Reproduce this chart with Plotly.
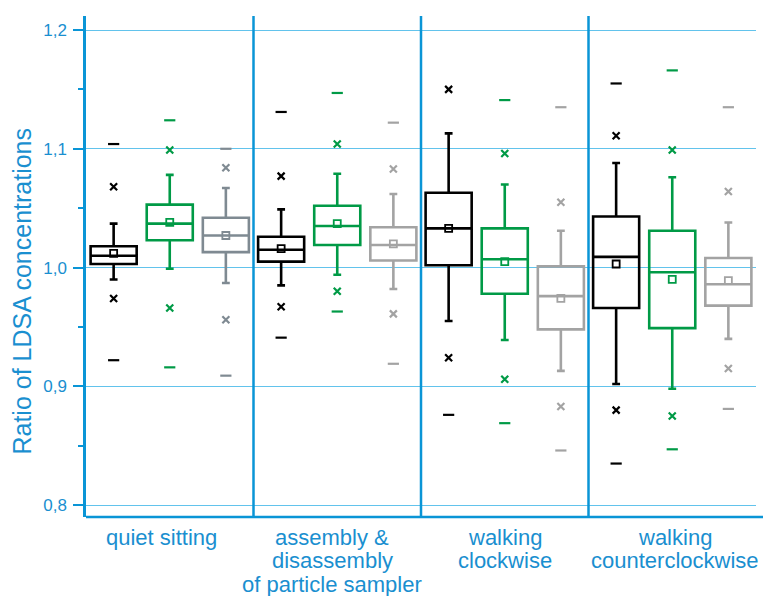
import plotly.graph_objects as go

# Activities on the x axis, one list entry per label line
groups = [
    ["quiet sitting"],
    ["assembly &", "disassembly", "of particle sampler"],
    ["walking", "clockwise"],
    ["walking", "counterclockwise"],
]

# Summary statistics of the LDSA ratio for three instruments
# (min, 1st pct, lower whisker, Q1, median, mean, Q3, upper whisker, 99th pct, max)
black_min = [0.922, 0.941, 0.876, 0.835]
black_plo = [0.974, 0.967, 0.924, 0.880]
black_wlo = [0.990, 0.985, 0.955, 0.902]
black_q1 = [1.003, 1.005, 1.002, 0.966]
black_med = [1.010, 1.015, 1.033, 1.009]
black_mean = [1.012, 1.016, 1.033, 1.003]
black_q3 = [1.018, 1.026, 1.063, 1.043]
black_whi = [1.037, 1.049, 1.113, 1.088]
black_phi = [1.068, 1.077, 1.150, 1.111]
black_max = [1.104, 1.131, 1.213, 1.155]

green_min = [0.916, 0.963, 0.869, 0.847]
green_plo = [0.966, 0.980, 0.906, 0.875]
green_wlo = [0.999, 0.994, 0.939, 0.898]
green_q1 = [1.023, 1.019, 0.978, 0.949]
green_med = [1.037, 1.035, 1.007, 0.996]
green_mean = [1.038, 1.037, 1.005, 0.990]
green_q3 = [1.053, 1.052, 1.033, 1.031]
green_whi = [1.078, 1.079, 1.070, 1.076]
green_phi = [1.099, 1.104, 1.096, 1.099]
green_max = [1.124, 1.147, 1.141, 1.166]

gray_min = [0.909, 0.919, 0.846, 0.881]
gray_plo = [0.956, 0.961, 0.883, 0.915]
gray_wlo = [0.987, 0.982, 0.913, 0.940]
gray_q1 = [1.013, 1.006, 0.948, 0.968]
gray_med = [1.027, 1.019, 0.976, 0.986]
gray_mean = [1.027, 1.020, 0.974, 0.989]
gray_q3 = [1.042, 1.034, 1.001, 1.008]
gray_whi = [1.067, 1.062, 1.031, 1.038]
gray_phi = [1.084, 1.083, 1.055, 1.064]
gray_max = [1.100, 1.122, 1.135, 1.135]

y_ticks = [0.8, 0.9, 1.0, 1.1, 1.2]
y_title = "Ratio of LDSA concentrations"

AXIS = "#0a95d6"
GRID = "#62c3ec"
TEXT = "#1a8fd0"

series = [
    dict(name="instrument 1", colors=["#000000"] * 4, offset=-0.335,
         stats=(black_min, black_plo, black_wlo, black_q1, black_med, black_mean,
                black_q3, black_whi, black_phi, black_max)),
    dict(name="instrument 2", colors=["#009a46"] * 4, offset=0.0,
         stats=(green_min, green_plo, green_wlo, green_q1, green_med, green_mean,
                green_q3, green_whi, green_phi, green_max)),
    dict(name="instrument 3", colors=["#7f8a92", "#a3a3a3", "#a3a3a3", "#a3a3a3"], offset=0.335,
         stats=(gray_min, gray_plo, gray_wlo, gray_q1, gray_med, gray_mean,
                gray_q3, gray_whi, gray_phi, gray_max)),
]

fig = go.Figure()

for s in series:
    mn, plo, wlo, q1, med, mean, q3, whi, phi, mx = s["stats"]
    for g in range(len(groups)):
        pos = g + 0.5 + s["offset"]
        col = s["colors"][g]
        fig.add_trace(go.Box(
            x=[pos], q1=[q1[g]], median=[med[g]], q3=[q3[g]],
            lowerfence=[wlo[g]], upperfence=[whi[g]],
            width=0.275, whiskerwidth=0.17, boxpoints=False,
            line=dict(color=col, width=2.6), fillcolor="rgba(0,0,0,0)",
            name=s["name"], showlegend=False,
        ))
        # mean
        fig.add_trace(go.Scatter(
            x=[pos], y=[mean[g]], mode="markers", showlegend=False, cliponaxis=False,
            marker=dict(symbol="square-open", size=7, color=col, line=dict(width=1.8, color=col)),
        ))
        # 1st / 99th percentiles
        fig.add_trace(go.Scatter(
            x=[pos, pos], y=[plo[g], phi[g]], mode="markers", showlegend=False, cliponaxis=False,
            marker=dict(symbol="x-thin", size=7, color=col, line=dict(width=2.2, color=col)),
        ))
        # min / max
        fig.add_trace(go.Scatter(
            x=[pos, pos], y=[mn[g], mx[g]], mode="markers", showlegend=False, cliponaxis=False,
            marker=dict(symbol="line-ew", size=8, color=col, line=dict(width=2.2, color=col)),
        ))

# group separators
for xv in [1, 2, 3]:
    fig.add_shape(type="line", xref="x", yref="paper", x0=xv, x1=xv, y0=0, y1=1,
                  line=dict(color=AXIS, width=2.5), layer="above")
# bottom axis line, running to the page edge
fig.add_shape(type="line", xref="paper", yref="paper", x0=0, x1=1.012, y0=0, y1=0,
              line=dict(color=AXIS, width=2.5), layer="above")

# category labels under each group, tight line spacing
label_nudge = [-8, -5, 0, 3]
for g, lines in enumerate(groups):
    for i, line in enumerate(lines):
        fig.add_annotation(
            x=g + 0.5, xref="x", y=0, yref="paper", text=line, showarrow=False,
            xanchor="center", yanchor="middle", xshift=label_nudge[g], yshift=-20 - 23.5 * i,
            font=dict(size=22, color=TEXT),
        )

# y axis title
fig.add_annotation(
    x=0, xref="paper", y=0.45, yref="paper", text=y_title, showarrow=False,
    textangle=-90, xanchor="center", yanchor="middle", xshift=-64,
    font=dict(size=25, color=TEXT),
)

fig.update_layout(
    width=763, height=596,
    margin=dict(l=86, r=7, t=16, b=79),
    plot_bgcolor="white", paper_bgcolor="white",
    separators=", ",
    font=dict(family="Liberation Sans, Arial, sans-serif", color=TEXT),
    showlegend=False,
    boxmode="overlay",
    xaxis=dict(
        range=[0, 4], showticklabels=False,
        showgrid=False, zeroline=False, showline=False, ticks="",
    ),
    yaxis=dict(
        range=[0.79, 1.2118], tickvals=y_ticks, tickformat=".1f",
        showgrid=True, gridcolor=GRID, gridwidth=1, zeroline=False,
        showline=True, linecolor=AXIS, linewidth=2.5,
        ticks="outside", ticklen=10, tickwidth=2, tickcolor=AXIS,
        tickfont=dict(size=17, color=TEXT), ticklabelstandoff=3,
        minor=dict(dtick=0.05, tick0=0.8, ticks="outside", ticklen=5, tickwidth=2,
                   tickcolor=AXIS, showgrid=False),
    ),
)

fig.write_html("out.html")
